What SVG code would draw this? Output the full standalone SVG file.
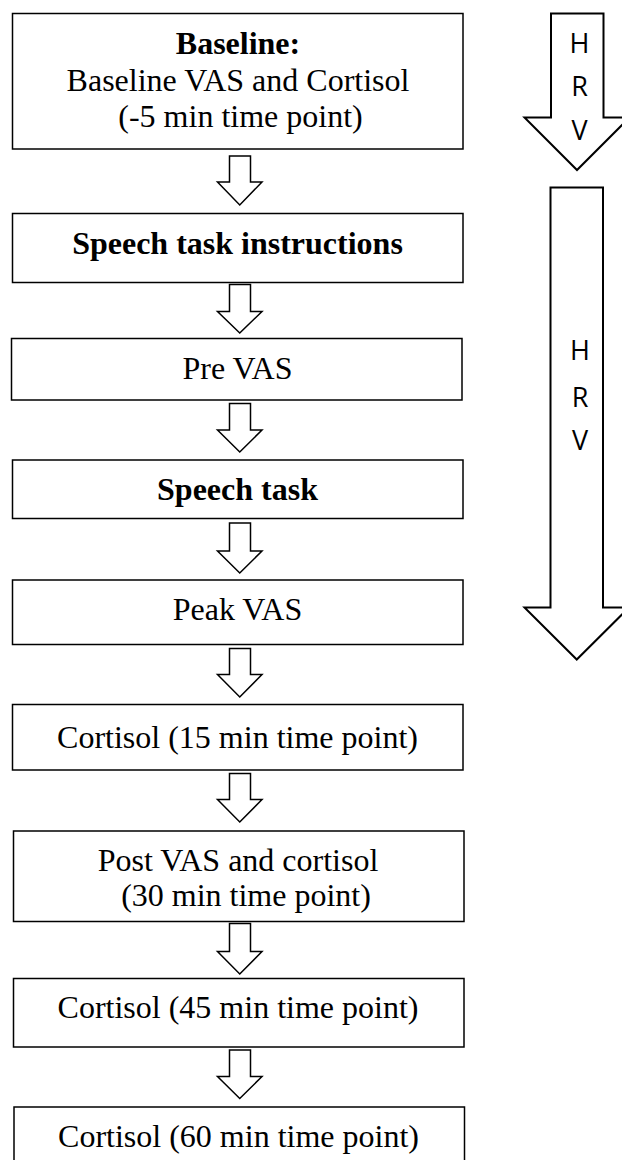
<svg xmlns="http://www.w3.org/2000/svg" width="622" height="1160" viewBox="0 0 622 1160">
<style>
.box{fill:#fff;stroke:#000;stroke-width:1.5}
.t{font-family:"Liberation Serif","Times New Roman",serif;font-size:32px;fill:#000;text-anchor:middle}
.b{font-weight:bold}
.arr{fill:#fff;stroke:#000;stroke-width:1.5;stroke-linejoin:miter}
.hrv{fill:#fff;stroke:#000;stroke-width:2}
.h{font-family:"Open Sans","Noto Sans",sans-serif;font-size:27px;fill:#000;text-anchor:middle}
</style>
<rect width="622" height="1160" fill="#fff"/>
<g id="connectors">
<path class="arr" d="M229.5,156 L250.5,156 L250.5,182 L262,182 L239.75,205 L217.5,182 L229.5,182 Z"/>
<path class="arr" d="M229.5,284.5 L250.5,284.5 L250.5,311.5 L262,311.5 L239.75,333 L217.5,311.5 L229.5,311.5 Z"/>
<path class="arr" d="M229.5,403.5 L250.5,403.5 L250.5,430 L262,430 L239.75,452 L217.5,430 L229.5,430 Z"/>
<path class="arr" d="M229.5,523 L250.5,523 L250.5,551 L262,551 L239.75,573 L217.5,551 L229.5,551 Z"/>
<path class="arr" d="M229.5,648.5 L250.5,648.5 L250.5,674.5 L262,674.5 L239.75,697 L217.5,674.5 L229.5,674.5 Z"/>
<path class="arr" d="M229.5,773.5 L250.5,773.5 L250.5,799.5 L262,799.5 L239.75,822 L217.5,799.5 L229.5,799.5 Z"/>
<path class="arr" d="M229.5,923.5 L250.5,923.5 L250.5,951.5 L262,951.5 L239.75,974 L217.5,951.5 L229.5,951.5 Z"/>
<path class="arr" d="M229.5,1050 L250.5,1050 L250.5,1076.5 L262,1076.5 L239.75,1098.5 L217.5,1076.5 L229.5,1076.5 Z"/>
</g>
<g id="hrv1">
<path class="hrv" d="M551,13.5 L603.5,13.5 L603.5,117.5 L629.5,117.5 L577,170 L524.5,117.5 L551,117.5 Z"/>
<text class="h" x="579.5" y="52.5">H</text>
<text class="h" x="579.5" y="95.5">R</text>
<text class="h" x="579.5" y="140">V</text>
</g>
<g id="hrv2">
<path class="hrv" d="M550.5,187.5 L603,187.5 L603,607.5 L629,607.5 L576.75,659.5 L524.5,607.5 L550.5,607.5 Z"/>
<text class="h" x="580" y="360">H</text>
<text class="h" x="580" y="406.5">R</text>
<text class="h" x="580" y="450">V</text>
</g>
<g id="baseline">
<rect class="box" x="12.5" y="13.5" width="450.5" height="135.5"/>
<text class="t b" x="238" y="53.5">Baseline:</text>
<text class="t" x="238" y="90.5">Baseline VAS and Cortisol</text>
<text class="t" x="240.5" y="126.5"> (-5 min time point)</text>
</g>
<g id="instructions">
<rect class="box" x="12.5" y="213.5" width="450.5" height="69"/>
<text class="t b" x="237.5" y="254">Speech task instructions</text>
</g>
<g id="prevas">
<rect class="box" x="11.5" y="338.5" width="450.5" height="61.5"/>
<text class="t" x="237.5" y="378.5">Pre VAS</text>
</g>
<g id="speechtask">
<rect class="box" x="12.5" y="460" width="450.5" height="58.5"/>
<text class="t b" x="237.5" y="500">Speech task</text>
</g>
<g id="peakvas">
<rect class="box" x="12.5" y="580" width="450.5" height="64.5"/>
<text class="t" x="237.5" y="620">Peak VAS</text>
</g>
<g id="cortisol15">
<rect class="box" x="12.5" y="704.5" width="450.5" height="65.5"/>
<text class="t" x="237.5" y="748">Cortisol (15 min time point)</text>
</g>
<g id="postvas">
<rect class="box" x="13.5" y="831" width="450.5" height="90.5"/>
<text class="t" x="238" y="870.5">Post VAS and cortisol</text>
<text class="t" x="246" y="906">(30 min time point)</text>
</g>
<g id="cortisol45">
<rect class="box" x="13.5" y="978.5" width="450.5" height="68.5"/>
<text class="t" x="238" y="1018">Cortisol (45 min time point)</text>
</g>
<g id="cortisol60">
<rect class="box" x="14" y="1107" width="450.5" height="70"/>
<text class="t" x="238.5" y="1146.5">Cortisol (60 min time point)</text>
</g>
</svg>
